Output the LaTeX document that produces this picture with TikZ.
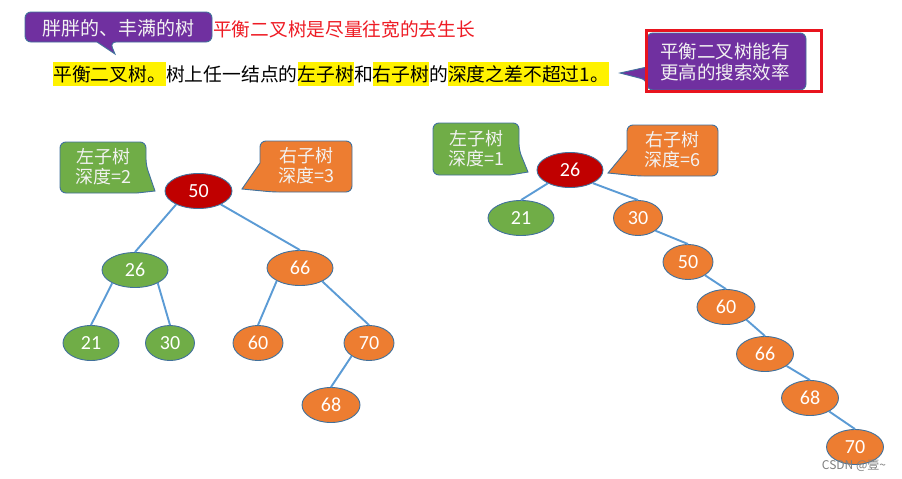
\documentclass[tikz,border=0pt]{standalone}
\usepackage{fontspec}
\setmainfont{Noto Sans CJK SC}
\newfontfamily\numfont{Carlito}
\usetikzlibrary{shapes.geometric}
\definecolor{cpurple}{HTML}{7030A0}
\definecolor{cborder}{HTML}{41719C}
\definecolor{cgreen}{HTML}{70AD47}
\definecolor{corange}{HTML}{ED7D31}
\definecolor{cred}{HTML}{C00000}
\definecolor{cedge}{HTML}{5B9BD5}
\definecolor{ctitle}{HTML}{EE1C25}
\definecolor{ctext}{HTML}{F2F2F2}
\definecolor{cframe}{HTML}{E8141E}
\definecolor{cmark}{HTML}{7F7F7F}
\newcommand{\hlbox}[1]{{\setlength{\fboxsep}{0pt}\colorbox{yellow}{\rule[-5pt]{0pt}{24pt}#1}}}
\begin{document}
\begin{tikzpicture}[x=1pt,y=-1pt,
  tnode/.style={ellipse, draw=cborder, line width=0.9pt, text=white,
    font=\numfont\fontsize{20}{22}\selectfont, minimum height=35pt, inner sep=0pt},
  gnode/.style={tnode, fill=cgreen},
  onode/.style={tnode, fill=corange},
  rnode/.style={tnode, fill=cred},
  tedge/.style={cedge, line width=1.9pt},
  calltext/.style={text=ctext, font=\fontsize{18.5}{21}\selectfont, align=center, inner sep=0pt},
  smalltext/.style={text=ctext, font=\fontsize{18}{20}\selectfont, align=center, inner sep=0pt},
  callbox/.style={draw=cborder, line width=0.9pt, rounded corners=6pt}
]
\fill[white] (0,0) rectangle (902,479);
\useasboundingbox (0,0) rectangle (902,479);

% ---- top callout
\draw[callbox, fill=cpurple] (150,12) -- (212,12) -- (212,42) -- (110,42) [sharp corners] -- (115,54) -- (97,42) [rounded corners=6pt] -- (25,42) -- (25,12) -- cycle;
\node[calltext, font=\fontsize{19}{21}\selectfont] (fat) at (118,28) {胖胖的、丰满的树};
\node[anchor=west, inner sep=0pt, text=ctitle, font=\fontsize{18.7}{21}\selectfont] (wide) at (213,29) {平衡二叉树是尽量往宽的去生长};

% ---- definition line
\node[anchor=west, inner sep=0pt, font=\fontsize{18.8}{22}\selectfont] (def) at (53,74)
  {\hlbox{平衡二叉树。}树上任一结点的\hlbox{左子树}和\hlbox{右子树}的\hlbox{深度之差不超过1。}};

% ---- right callout
\draw[callbox, fill=cpurple] (720,33) -- (806,33) -- (806,90) -- (647,90) -- (647,80) [sharp corners] -- (620,73) -- (647,67) [rounded corners=6pt] -- (647,33) -- cycle;
\node[calltext] (eff) at (725,62) {平衡二叉树能有\\更高的搜索效率};
\draw[cframe, line width=3pt] (646.5,30.5) rectangle (821.5,91);

% ---- left tree callouts
\draw[callbox, fill=cgreen] (100,142) -- (146,142) -- (146,165) [sharp corners] -- (155,191) -- (137,193) [rounded corners=6pt] -- (60,193) -- (60,142) -- cycle;
\node[smalltext] (lsl) at (103,167) {左子树\\深度=2};
\draw[callbox, fill=corange] (300,141) -- (352,141) -- (352,192) -- (273,192) [sharp corners] -- (242,189) -- (260,163) [rounded corners=6pt] -- (260,141) -- cycle;
\node[smalltext] (lsr) at (306,166) {右子树\\深度=3};

% ---- right tree callouts
\draw[callbox, fill=cgreen] (470,123) -- (519,123) -- (519,150) [sharp corners] -- (528,172) -- (510,175) [rounded corners=6pt] -- (433,175) -- (433,123) -- cycle;
\node[smalltext] (rsl) at (476,149) {左子树\\深度=1};
\draw[callbox, fill=corange] (670,125) -- (718,125) -- (718,176) -- (638,176) [sharp corners] -- (608,173) -- (627,150) [rounded corners=6pt] -- (627,125) -- cycle;
\node[smalltext] (rsr) at (672,150) {右子树\\深度=6};

% ---- left tree
\node[rnode, minimum width=67pt] (n50) at (198.5,191) {50};
\node[gnode, minimum width=66pt] (n26) at (135,270) {26};
\node[onode, minimum width=66pt] (n66) at (300,268) {66};
\node[gnode, minimum width=56pt] (n21a) at (91,343) {21};
\node[gnode, minimum width=49pt] (n30a) at (170,343) {30};
\node[onode, minimum width=50pt] (n60a) at (258,343) {60};
\node[onode, minimum width=50pt] (n70a) at (369,343) {70};
\node[onode, minimum width=58pt] (n68a) at (331,405) {68};
\draw[tedge] (n50.-149) -- (n26.north);
\draw[tedge] (n50.-31) -- (n66.north);
\draw[tedge] (n26.-150) -- (n21a.north);
\draw[tedge] (n26.-30) -- (n30a.north);
\draw[tedge] (n66.-151) -- (n60a.north);
\draw[tedge] (n66.-31) -- (n70a.north);
\draw[tedge] (n70a.-143) -- (n68a.north);

% ---- right tree
\node[rnode, minimum width=66pt] (m26) at (570,170) {26};
\node[gnode, minimum width=66pt] (m21) at (521,218) {21};
\node[onode, minimum width=49pt] (m30) at (638,218) {30};
\node[onode, minimum width=50pt] (m50) at (688,262) {50};
\node[onode, minimum width=58pt] (m60) at (726,307) {60};
\node[onode, minimum width=57pt] (m66) at (765,354) {66};
\node[onode, minimum width=57pt] (m68) at (810,398) {68};
\node[onode, minimum width=57pt] (m70) at (855,447) {70};
\draw[tedge] (m26.-149) -- (m21.north);
\draw[tedge] (m26.-30) -- (m30.north);
\draw[tedge] (m30.-36) -- (m50.north);
\draw[tedge] (m50.-38) -- (m60.north);
\draw[tedge] (m60.-32) -- (m66.north);
\draw[tedge] (m66.-29) -- (m68.north);
\draw[tedge] (m68.-35) -- (m70.north);

\node[text=cmark, font=\fontsize{12}{13}\selectfont, inner sep=0pt] (csdn) at (854,465) {CSDN @壹\textasciitilde};
\end{tikzpicture}
\end{document}
